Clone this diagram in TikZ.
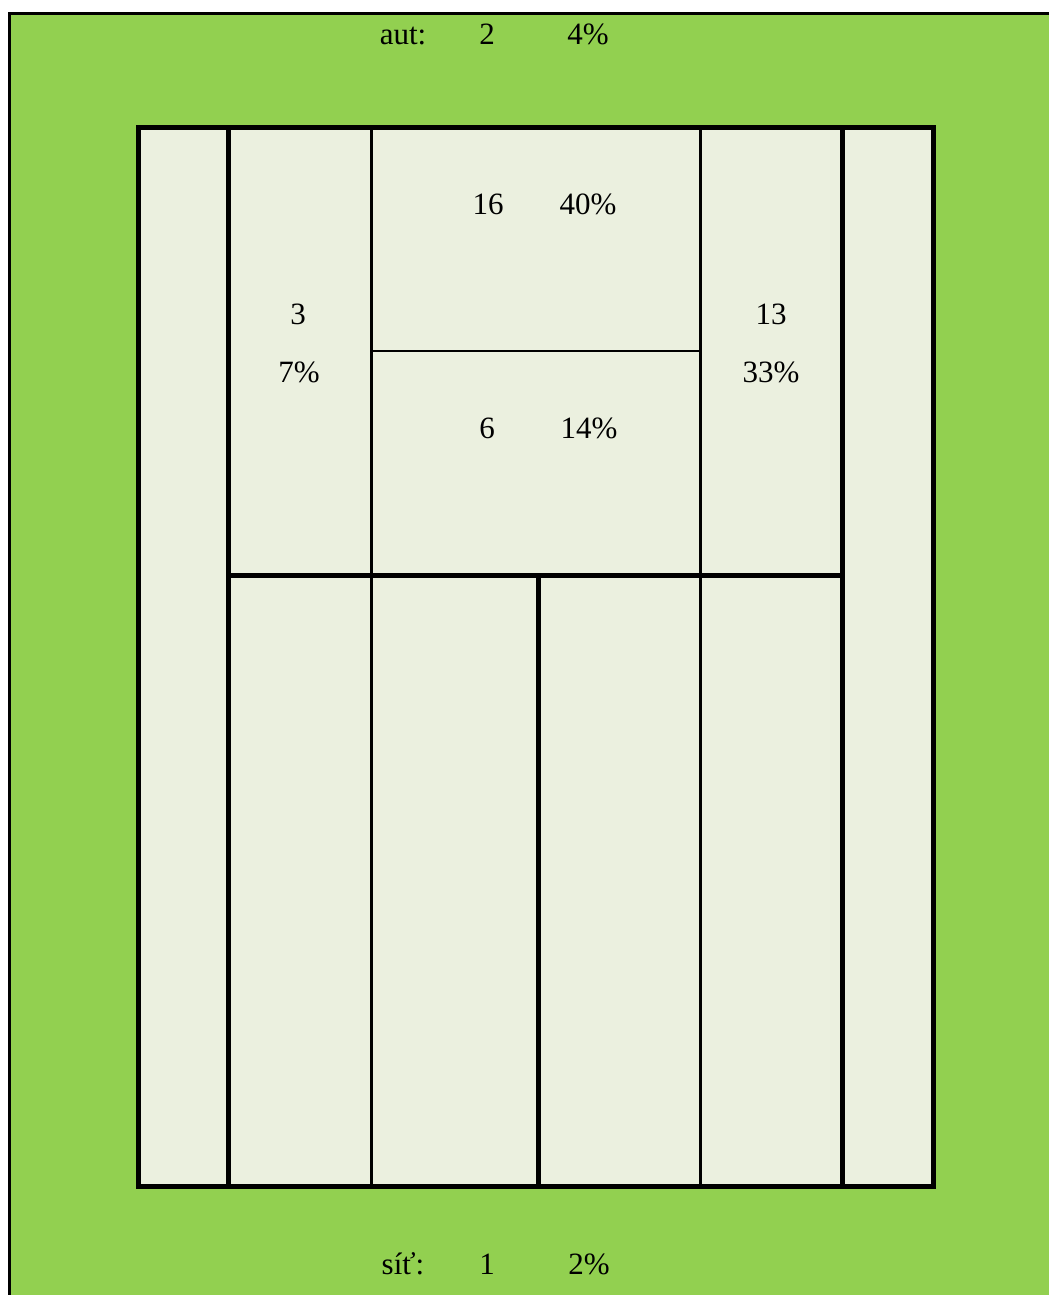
\documentclass[tikz,border=0pt]{standalone}
\usepackage{fontspec}
\setmainfont{Liberation Serif}
\definecolor{grass}{HTML}{92D050}
\definecolor{court}{HTML}{EBF0DF}
\begin{document}
\begin{tikzpicture}[x=1pt,y=-1pt,
  thickline/.style={line width=5pt,black},
  thinline/.style={line width=3pt,black},
  hairline/.style={line width=2pt,black},
  lbl/.style={anchor=base,inner sep=0pt,font=\fontsize{31}{36}\selectfont}]
\useasboundingbox (0,0) rectangle (1049,1295);
\fill[white] (0,0) rectangle (1049,1295);
\fill[grass] (9.5,13.3) rectangle (1049,1295);
\draw[line width=3pt] (9.5,1295) -- (9.5,13.3) -- (1049,13.3);
% court
\fill[court] (138.5,127.5) rectangle (933.5,1186.5);
\coordinate (tl) at (138.5,127.5);
\coordinate (br) at (933.5,1186.5);
\draw[thinline] (371,127.5) -- (371,1186.5);
\draw[thinline] (700.5,127.5) -- (700.5,1186.5);
\draw[hairline] (371,351) -- (700.5,351);
\draw[thickline] (228.5,127.5) -- (228.5,1186.5);
\draw[thickline] (842.5,127.5) -- (842.5,1186.5);
\draw[thickline] (228.5,575.5) -- (842.5,575.5);
\draw[thickline] (538.5,575.5) -- (538.5,1186.5);
\draw[thickline] (tl) rectangle (br);
% labels
\node[lbl] (autl) at (403,45) {aut:};
\node[lbl] (autn) at (487,45) {2};
\node[lbl] (autp) at (588,45) {4\%};
\node[lbl] (a16) at (488,214) {16};
\node[lbl] (a40) at (588,214) {40\%};
\node[lbl] (a3) at (298,324) {3};
\node[lbl] (a7) at (299,382) {7\%};
\node[lbl] (a13) at (771,324) {13};
\node[lbl] (a33) at (771,382) {33\%};
\node[lbl] (a6) at (487,438) {6};
\node[lbl] (a14) at (589,438) {14\%};
\node[lbl] (sitl) at (403,1274) {síť:};
\node[lbl] (sitn) at (487,1274) {1};
\node[lbl] (sitp) at (589,1274) {2\%};
\end{tikzpicture}
\end{document}
